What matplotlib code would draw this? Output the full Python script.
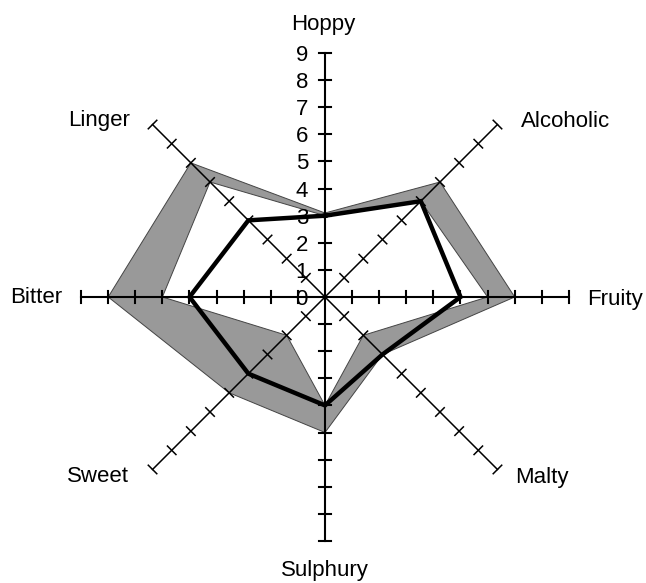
import numpy as np
import matplotlib.pyplot as plt

plt.rcParams['font.family'] = ['Liberation Sans', 'DejaVu Sans']

# ---- data
categories = ['Hoppy', 'Alcoholic', 'Fruity', 'Malty', 'Sulphury', 'Sweet', 'Bitter', 'Linger']
upper = [3.1, 6, 7, 3, 5, 5, 8, 7]
lower = [3, 5, 6, 2, 4, 2, 6, 6]
mean = [3, 5, 5, 3, 4, 4, 5, 4]
scale_max = 9

# ---- layout (pixels)
W, H = 646, 583
CX, CY = 325, 297
UNIT = 27.1
tick_half = 6 / UNIT

# label offsets (pixels from the end of each axis) and alignment
label_off = [(-2, 23), (23, -2), (18, -8), (18, -14), (0, -35), (-24, -13), (-19, -6), (-23, -1)]
label_ha = ['center', 'left', 'left', 'left', 'center', 'right', 'right', 'right']

angles = np.deg2rad(90 - 45 * np.arange(len(categories)))


def to_xy(vals):
    r = np.array(vals, dtype=float)
    return r * np.cos(angles), r * np.sin(angles)


fig = plt.figure(figsize=(W / 100, H / 100), dpi=100)
ax = fig.add_axes([0, 0, 1, 1])
ax.set_xlim(-CX / UNIT, (W - CX) / UNIT)
ax.set_ylim(-(H - CY) / UNIT, CY / UNIT)
ax.axis('off')

# range band : gray upper polygon, white lower polygon on top
x, y = to_xy(upper)
ax.fill(x, y, facecolor='#999999', edgecolor='#444444', lw=0.7, zorder=1)
x, y = to_xy(lower)
ax.fill(x, y, facecolor='white', edgecolor='#444444', lw=0.7, zorder=2)

# axes with cross ticks
for i, a in enumerate(angles):
    c, s = np.cos(a), np.sin(a)
    diag = (i % 2 == 1)
    lw = 1.1 if diag else 1.5
    ax.plot([0, scale_max * c], [0, scale_max * s], color='black', lw=lw, zorder=3)
    for k in range(1, scale_max + 1):
        px, py = k * c, k * s
        ax.plot([px + tick_half * s, px - tick_half * s],
                [py - tick_half * c, py + tick_half * c],
                color='black', lw=lw, zorder=3)
    ax.annotate(categories[i], xy=(scale_max * c, scale_max * s),
                xytext=label_off[i], textcoords='offset pixels',
                ha=label_ha[i], va='baseline', fontsize=16, zorder=5)

# value labels on the Hoppy axis
for k in range(0, scale_max + 1):
    ax.annotate(str(k), xy=(0, k), xytext=(-17, 0), textcoords='offset pixels',
                ha='right', va='center_baseline', fontsize=16, zorder=5)

# mean profile
x, y = to_xy(mean)
ax.plot(np.append(x, x[0]), np.append(y, y[0]), color='black', lw=3.2,
        solid_joinstyle='miter', zorder=4)

plt.savefig('out.png', dpi=100)
